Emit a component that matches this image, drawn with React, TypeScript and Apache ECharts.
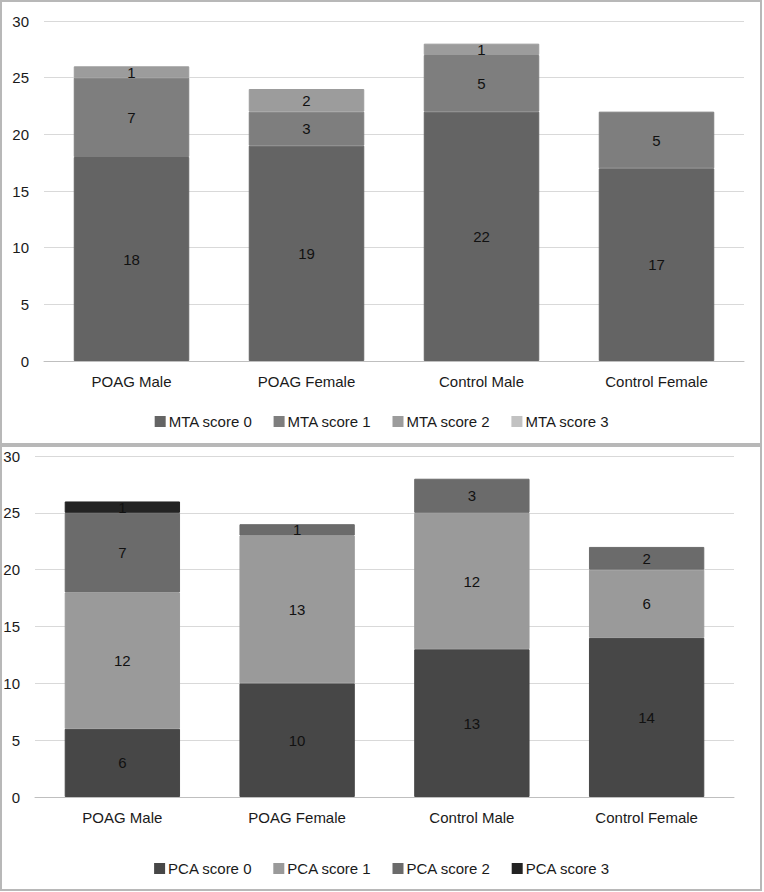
import React, { useEffect, useRef } from "react";
import * as echarts from "echarts";

const categories = ["POAG Male", "POAG Female", "Control Male", "Control Female"];
const yTicks = [0, 5, 10, 15, 20, 25, 30];

const mtaNames = ["MTA score 0", "MTA score 1", "MTA score 2", "MTA score 3"];
const mta0 = [18, 19, 22, 17];
const mta1 = [7, 3, 5, 5];
const mta2 = [1, 2, 1, 0];
const mta3 = [0, 0, 0, 0];
const mtaColors = ["#646464", "#7e7e7e", "#9c9c9c", "#c2c2c2"];

const pcaNames = ["PCA score 0", "PCA score 1", "PCA score 2", "PCA score 3"];
const pca0 = [6, 10, 13, 14];
const pca1 = [12, 13, 12, 6];
const pca2 = [7, 1, 3, 2];
const pca3 = [1, 0, 0, 0];
const pcaColors = ["#474747", "#9a9a9a", "#6b6b6b", "#232323"];

const FONT = "'Liberation Sans', Arial, sans-serif";
const FS = 15;

export default function App() {
  const ref = useRef<HTMLDivElement>(null);
  useEffect(() => {
    if (!ref.current) return;
    const chart = echarts.init(ref.current, undefined, { renderer: "svg" });
    const mkSeries = (names: string[], data: number[][], colors: string[], idx: number, stack: string) =>
      names.map((n, i) => ({
        name: n,
        type: "bar",
        stack,
        xAxisIndex: idx,
        yAxisIndex: idx,
        barCategoryGap: "34%",
        data: data[i].map((v) => (v === 0 ? "-" : v)),
        itemStyle: { color: colors[i], borderColor: colors[i], borderWidth: 1 },
        label: {
          show: true,
          position: "inside",
          color: "#111",
          fontSize: FS,
          fontFamily: FONT,
        },
      }));
    const yAxis = (idx: number) => ({
      type: "value",
      gridIndex: idx,
      min: yTicks[0],
      max: yTicks[yTicks.length - 1],
      interval: yTicks[1] - yTicks[0],
      axisLine: { show: false },
      axisTick: { show: false },
      axisLabel: { fontSize: FS, color: "#1a1a1a", fontFamily: FONT, margin: 15 },
      splitLine: { lineStyle: { color: "#d9d9d9", width: 1 } },
    });
    const xAxis = (idx: number) => ({
      type: "category",
      gridIndex: idx,
      data: categories,
      axisLine: { lineStyle: { color: "#bfbfbf", width: 1 } },
      axisTick: { show: false },
      axisLabel: { fontSize: FS, color: "#1a1a1a", fontFamily: FONT, margin: 13 },
    });
    const legend = (names: string[], top: number) => ({
      data: names,
      top,
      left: "center",
      itemWidth: 9,
      itemHeight: 9,
      itemGap: 21,
      icon: "rect",
      textStyle: { fontSize: FS, color: "#1a1a1a", fontFamily: FONT, padding: [0, 0, 0, -1] },
    });
    chart.setOption({
      animation: false,
      backgroundColor: "#ffffff",
      textStyle: { fontFamily: FONT },
      grid: [
        { left: 44, top: 21, width: 700, height: 340 },
        { left: 35, top: 456, width: 699, height: 341 },
      ],
      xAxis: [xAxis(0), xAxis(1)],
      yAxis: [yAxis(0), yAxis(1)],
      legend: [legend(mtaNames, 409), legend(pcaNames, 856)],
      graphic: [
        { type: "rect", shape: { x: 1, y: 1, width: 760, height: 443 }, style: { fill: "none", stroke: "#b8b8b8", lineWidth: 2 }, z: 100 },
        { type: "rect", shape: { x: 1, y: 446, width: 760, height: 444 }, style: { fill: "none", stroke: "#b8b8b8", lineWidth: 2 }, z: 100 },
      ],
      series: [
        ...mkSeries(mtaNames, [mta0, mta1, mta2, mta3], mtaColors, 0, "mta"),
        ...mkSeries(pcaNames, [pca0, pca1, pca2, pca3], pcaColors, 1, "pca"),
      ],
    });
    return () => chart.dispose();
  }, []);
  return (
    <div
      ref={ref}
      style={{ position: "fixed", left: 0, top: 0, width: 764, height: 892 }}
    />
  );
}
